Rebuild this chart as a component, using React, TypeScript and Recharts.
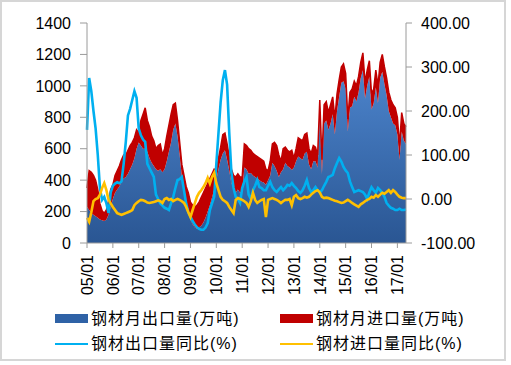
import { Area, ComposedChart, Line, XAxis, YAxis } from 'recharts';

const years = ['05', '06', '07', '08', '09', '10', '11', '12', '13', '14', '15', '16', '17'];
const months = ['01', '02', '03', '04', '05', '06', '07', '08', '09', '10', '11', '12'];
const monthCount = 149;

// 钢材月出口量(万吨)
const exportVol = [
  230, 210, 190, 180, 170, 160, 150, 145, 140, 150, 180, 230,
  280, 320, 340, 360, 390, 410, 420, 440, 470, 500, 540, 600,
  640, 620, 600, 600, 580, 540, 510, 490, 470, 460, 470, 450,
  470, 520, 580, 640, 720, 760, 680, 560, 420, 330, 260, 220,
  150, 120, 100, 90, 100, 110, 130, 160, 200, 240, 290, 340,
  400, 470, 530, 570, 590, 530, 460, 380, 350, 320, 340, 320,
  330, 480, 470, 440, 445, 430, 420, 410, 400, 390, 385, 370,
  400, 430, 510, 490, 460, 420, 450, 470, 510, 490, 480, 465,
  480, 520, 550, 540, 530, 570, 580, 500, 470, 520, 520, 480,
  800, 440, 760, 780, 720, 760, 820, 690, 840, 930, 1020, 1030,
  980, 710, 860, 870, 930, 900, 960, 1050, 1100, 920, 1000, 1060,
  850, 890, 990, 890, 1050, 1090, 1010, 940, 840, 800, 760, 750,
  690, 530, 710, 650, 630,
];

// 钢材月进口量(万吨)
const importVol = [
  120, 250, 260, 250, 230, 180, 100, 60, 50, 60, 90, 110,
  90, 110, 120, 130, 140, 150, 140, 150, 150, 140, 130, 120,
  60, 160, 220, 260, 200, 200, 170, 160, 130, 160, 160, 110,
  130, 160, 170, 180, 160, 130, 100, 80, 80, 100, 100, 100,
  110, 120, 130, 150, 160, 180, 190, 190, 180, 170, 150, 130,
  60, 70, 80, 120, 110, 100, 90, 90, 80, 100, 100, 100,
  90, 150, 150, 160, 145, 140, 140, 140, 140, 140, 135, 100,
  60, 90, 120, 150, 160, 140, 70, 130, 100, 100, 100, 125,
  60, 80, 120, 120, 120, 120, 120, 100, 100, 100, 90, 80,
  110, 90, 120, 120, 110, 120, 110, 100, 110, 110, 100, 110,
  100, 80, 100, 110, 100, 100, 100, 100, 110, 100, 100, 100,
  100, 90, 110, 110, 100, 110, 110, 110, 120, 110, 120, 110,
  110, 90, 120, 110, 110,
];

// 钢材出口量同比(%)
const exportYoy = [
  157, 275, 245, 200, 160, 100, 25, -2, 5, -10, -32, 15,
  30, 35, 38, 36, 40, 80, 130, 190, 205, 225, 245, 230,
  160, 145, 135, 130, 80, 70, 60, 50, 10, 0, -10, -15,
  -20, -22, -25, -10, 5, 25, 43, 45, 50, 20, -10, -30,
  -40, -50, -58, -64, -68, -70, -70, -65, -55, -25, -10, 5,
  80, 150, 220, 270, 293, 260, 150, 60, 25, 5, 0, -9,
  25, 40, 50, 10, 0, 20, 30, 43, 27, 25, 20, 20,
  30, 39, 27, 20, 16, 22, 27, 20, 25, 32, 30, 36,
  30, 25, 18, 14, 20, 30, 43, 25, 16, 20, 27, 20,
  15, 20, 30, 39, 50, 52, 55, 70, 82, 93, 85, 73,
  65, 59, 40, 27, 16, 18, 20, 18, 16, 10, 0, 15,
  27, 20, 14, 25, 20, 14, 5, -9, -15, -20, -22, -25,
  -25, -22, -25, -25, -24,
];

// 钢材进口量同比(%)
const importYoy = [
  -43, -52, -30, -5, 0, 2, 10, 25, 36, 20, -2, -10,
  -18, -25, -32, -34, -36, -34, -32, -30, -28, -25, -14, -9,
  -5, -2, -3, -5, -8, -9, -8, -7, -5, -3, -5, -9,
  0, 2, -2, 0, -5, -2, 0, -2, -5, -9, -18, -30,
  -41, -25, -10, 5, 14, 20, 27, 36, 48, 35, 50, 59,
  36, 20, 5, -2, -5, -9, -18, -25, -32, -2, 2, 0,
  -2, -5, -9, -18, -5, 14, -2, -9, -5, -2, 0, -41,
  -2, 0, 2, 0, -2, -5, -9, -5, -2, -2, 0, -14,
  5, 9, 2, 0, 2, 5, 3, 5, 10, 14, 18, 20,
  15, 5, 2, 3, 2, 0, -2, -4, -5, -7, -9, -8,
  -5, -2, -5, -9, -12, -15, -18, -12, -9, -5, -2, 0,
  5, 3, 9, 5, 10, 14, 12, 16, 20, 14, 20, 16,
  10, 5, 3, 2, 2,
];

const leftTicks = [0, 200, 400, 600, 800, 1000, 1200, 1400];
const rightTicks = [-100, 0, 100, 200, 300, 400];

const labels = years.flatMap((y) => months.map((m) => `${y}/${m}`)).slice(0, monthCount);

const data = labels.map((label, i) => ({
  label,
  exp: exportVol[i],
  imp: importVol[i],
  expYoy: exportYoy[i],
  impYoy: importYoy[i],
}));

const FONT = '"Liberation Sans", Arial, sans-serif';
const AXIS = '#9a9a9a';

function XTick({ x, y, payload }: any) {
  return (
    <text
      x={x}
      y={y}
      transform={`rotate(-90 ${x} ${y})`}
      textAnchor="end"
      dy="0.36em"
      fontSize={16}
      fontFamily={FONT}
      fill="#000"
    >
      {payload.value}
    </text>
  );
}

const legendItems = [
  { label: '钢材月出口量(万吨)', color: '#2f62a6', kind: 'rect', left: 55, top: 319 },
  { label: '钢材月进口量(万吨)', color: '#c00000', kind: 'rect', left: 280, top: 319 },
  { label: '钢材出口量同比(%)', color: '#00b0f0', kind: 'line', left: 55, top: 344 },
  { label: '钢材进口量同比(%)', color: '#ffc000', kind: 'line', left: 280, top: 344 },
];

export default function App() {
  return (
    <div style={{ position: 'absolute', left: 0, top: 0, width: 511, height: 365, background: '#fff' }}>
      <div
        style={{
          position: 'absolute',
          left: 0,
          top: 0,
          width: 502,
          height: 357,
          border: '2px solid #d6d6d6',
        }}
      />
      <ComposedChart
        width={511}
        height={365}
        data={data}
        margin={{ top: 23, right: 10, left: 10, bottom: 62 }}
        style={{ position: 'absolute', left: 0, top: 0 }}
      >
        <defs>
          <linearGradient id="expGrad" x1="0" y1="0" x2="0" y2="1">
            <stop offset="0%" stopColor="#4c84cc" />
            <stop offset="100%" stopColor="#2a5693" />
          </linearGradient>
        </defs>
        <XAxis
          dataKey="label"
          interval={11}
          height={60}
          tick={<XTick />}
          tickSize={5}
          tickMargin={7}
          axisLine={{ stroke: AXIS }}
          tickLine={{ stroke: AXIS }}
        />
        <YAxis
          yAxisId="l"
          domain={[0, 1400]}
          ticks={leftTicks}
          width={77}
          tickSize={7}
          tickMargin={9}
          axisLine={{ stroke: AXIS }}
          tickLine={{ stroke: AXIS }}
          tick={{ fontSize: 16, fontFamily: FONT, fill: '#000' }}
        />
        <YAxis
          yAxisId="r"
          orientation="right"
          domain={[-100, 400]}
          ticks={rightTicks}
          width={95}
          tickSize={6}
          tickMargin={9}
          tickFormatter={(v: number) => v.toFixed(2)}
          axisLine={{ stroke: AXIS }}
          tickLine={{ stroke: AXIS }}
          tick={{ fontSize: 16, fontFamily: FONT, fill: '#000' }}
        />
        <Area
          yAxisId="l"
          type="linear"
          dataKey="exp"
          stackId="a"
          stroke="none"
          fill="url(#expGrad)"
          fillOpacity={1}
          isAnimationActive={false}
        />
        <Area
          yAxisId="l"
          type="linear"
          dataKey="imp"
          stackId="a"
          stroke="#c00000"
          strokeWidth={1.5}
          fill="#c00000"
          fillOpacity={1}
          isAnimationActive={false}
        />
        <Line
          yAxisId="r"
          type="linear"
          dataKey="expYoy"
          stroke="#00b0f0"
          strokeWidth={2.6}
          dot={false}
          isAnimationActive={false}
        />
        <Line
          yAxisId="r"
          type="linear"
          dataKey="impYoy"
          stroke="#ffc000"
          strokeWidth={2.6}
          dot={false}
          isAnimationActive={false}
        />
      </ComposedChart>
      {legendItems.map((item) => (
        <div key={item.label}>
          <div
            style={{
              position: 'absolute',
              left: item.left,
              top: item.kind === 'rect' ? item.top - 5 : item.top - 1,
              width: 33,
              height: item.kind === 'rect' ? 9 : 2,
              background: item.color,
            }}
          />
          <div
            style={{
              position: 'absolute',
              left: item.left + 36,
              top: item.top - 9,
              height: 18,
              lineHeight: '18px',
              fontSize: 16,
              letterSpacing: 1,
              fontFamily: '"Liberation Sans", "Noto Sans CJK SC", sans-serif',
              color: '#000',
              whiteSpace: 'nowrap',
            }}
          >
            {item.label}
          </div>
        </div>
      ))}
    </div>
  );
}
